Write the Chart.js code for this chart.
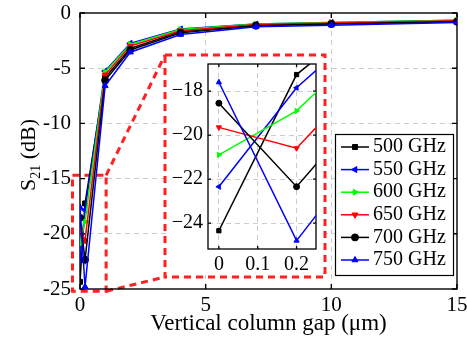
<!DOCTYPE html>
<html>
<head>
<meta charset="utf-8">
<script src="https://cdn.jsdelivr.net/npm/chart.js@4.4.1/dist/chart.umd.min.js"></script>
<style>
body { margin: 0; background: #fff; }
#wrap { position: relative; width: 467px; height: 341px; }
#principal { position: absolute; left: 0; top: 0; }
#detalle { position: absolute; left: 167px; top: 57px; background: #fff; }
</style>
</head>
<body>
<div id="wrap">
<canvas id="principal" width="467" height="341"></canvas>
<canvas id="detalle" width="156" height="218"></canvas>
</div>
<script>
// separacion vertical de columnas (um) y S21 (dB) por frecuencia
const gaps = [0, 0.2, 1, 2, 4, 7, 10, 15];
const etiquetas = ["500 GHz", "550 GHz", "600 GHz", "650 GHz", "700 GHz", "750 GHz"];
const s500 = [-24.35, -17.25, -5.85, -3.2, -1.7, -1.1, -0.95, -0.75];
const s550 = [-22.35, -17.85, -5.25, -2.75, -1.45, -1.0, -0.85, -0.65];
const s600 = [-20.9, -18.9, -5.35, -2.85, -1.5, -1.0, -0.85, -0.65];
const s650 = [-19.65, -20.6, -5.6, -3.0, -1.6, -1.05, -0.9, -0.7];
const s700 = [-18.55, -22.35, -6.1, -3.35, -1.8, -1.15, -1.0, -0.8];
const s750 = [-17.6, -24.8, -6.6, -3.55, -1.95, -1.25, -1.1, -0.85];
const ticksX = [0, 5, 10, 15];
const ticksY = [0, -5, -10, -15, -20, -25];
const ticksXDetalle = [0, 0.1, 0.2];
const ticksYDetalle = [-24, -22, -20, -18];

const colores = ["#000000", "#0000ff", "#00ff00", "#ff0000", "#000000", "#0000ff"];
const marcadores = ["rect", "triangle", "triangle", "triangle", "circle", "triangle"];
const giros = [0, -90, 90, 180, 0, 0];
const letra = '"Liberation Serif", "Times New Roman", serif';
const gris = "#cccccc";

function series(radio) {
  return [s500, s550, s600, s650, s700, s750].map((vals, i) => ({
    label: etiquetas[i],
    data: gaps.map((g, j) => ({x: g, y: vals[j]})),
    borderColor: colores[i],
    backgroundColor: colores[i],
    pointStyle: marcadores[i],
    pointRotation: giros[i],
    pointRadius: radio,
    pointBorderWidth: 1,
    borderWidth: 1.5,
    order: 5 - i
  }));
}

// rejilla punteada solo en las marcas interiores
function colorRejilla(c) {
  const s = c.scale;
  if (!c.tick) return gris;
  return (c.tick.value === s.min || c.tick.value === s.max) ? "rgba(0,0,0,0)" : gris;
}

// tamanyo fijo del eje, sin el relleno automatico de las etiquetas
function fijar(s, tam) {
  if (s.isHorizontal()) s.height = tam; else s.width = tam;
  s.paddingTop = 0; s.paddingBottom = 0; s.paddingLeft = 0; s.paddingRight = 0;
}

// marco negro con marcas hacia dentro (estilo matlab)
const marco = {
  id: "marco",
  beforeDatasetsDraw(chart, args, opts) {
    const {ctx, chartArea: a, scales: {x, y}} = chart;
    const L = opts.largo || 5;
    ctx.save();
    ctx.strokeStyle = "#000";
    ctx.lineWidth = opts.ancho || 1.3;
    ctx.setLineDash([]);
    ctx.strokeRect(a.left, a.top, a.right - a.left, a.bottom - a.top);
    ctx.beginPath();
    x.ticks.forEach(t => {
      const px = x.getPixelForValue(t.value);
      ctx.moveTo(px, a.bottom); ctx.lineTo(px, a.bottom - L);
      ctx.moveTo(px, a.top); ctx.lineTo(px, a.top + L);
    });
    y.ticks.forEach(t => {
      const py = y.getPixelForValue(t.value);
      ctx.moveTo(a.left, py); ctx.lineTo(a.left + L, py);
      ctx.moveTo(a.right, py); ctx.lineTo(a.right - L, py);
    });
    ctx.stroke();
    ctx.restore();
  }
};

// recuadros rojos del zoom
const zoomRojo = {
  id: "zoomRojo",
  beforeDatasetsDraw(chart) {
    const {ctx, scales: {x, y}} = chart;
    const x0 = x.getPixelForValue(-0.3), x1 = x.getPixelForValue(1.04);
    const y0 = y.getPixelForValue(-14.7), y1 = y.getPixelForValue(-25.2);
    const g = {l: 165, t: 55, r: 325, b: 277};
    ctx.save();
    ctx.strokeStyle = "#ff2020";
    ctx.lineWidth = 3;
    ctx.setLineDash([7, 5]);
    ctx.strokeRect(x0, y0, x1 - x0, y1 - y0);
    ctx.strokeRect(g.l, g.t, g.r - g.l, g.b - g.t);
    ctx.beginPath();
    ctx.moveTo(x1, y0); ctx.lineTo(g.l, g.t);
    ctx.moveTo(x1, y1); ctx.lineTo(g.l, g.b);
    ctx.stroke();
    ctx.restore();
  }
};

const leyenda = {
  id: "leyenda",
  afterDatasetsDraw(chart) {
    const ctx = chart.ctx;
    ctx.save();
    ctx.fillStyle = "#fff";
    ctx.fillRect(335, 134, 118, 141);
    ctx.strokeStyle = "#000";
    ctx.lineWidth = 1.2;
    ctx.strokeRect(335.5, 134.5, 118, 141);
    chart.data.datasets.forEach((d, i) => {
      const yy = 147 + i * 22.6;
      ctx.strokeStyle = d.borderColor;
      ctx.fillStyle = d.borderColor;
      ctx.lineWidth = 1.5;
      ctx.beginPath(); ctx.moveTo(341, yy); ctx.lineTo(369, yy); ctx.stroke();
      ctx.lineWidth = 1;
      Chart.helpers.drawPoint(ctx, {pointStyle: d.pointStyle, rotation: d.pointRotation, radius: 3.5, borderWidth: 1}, 355, yy);
      ctx.fillStyle = "#000";
      ctx.font = "20px " + letra;
      ctx.textBaseline = "middle";
      ctx.textAlign = "left";
      ctx.fillText(d.label, 373, yy);
    });
    ctx.restore();
  }
};

// titulo del eje y con subindice
const tituloY = {
  id: "tituloY",
  afterDraw(chart) {
    const {ctx, chartArea: a} = chart;
    ctx.save();
    ctx.translate(27, (a.top + a.bottom) / 2 + 4);
    ctx.rotate(-Math.PI / 2);
    ctx.fillStyle = "#000";
    ctx.textBaseline = "alphabetic";
    const f1 = "22px " + letra, f2 = "14px " + letra;
    ctx.font = f1; const wS = ctx.measureText("S").width; const wR = ctx.measureText(" (dB)").width;
    ctx.font = f2; const w21 = ctx.measureText("21").width;
    let px = -(wS + w21 + wR) / 2;
    ctx.font = f1; ctx.fillText("S", px, 8); px += wS;
    ctx.font = f2; ctx.fillText("21", px, 13); px += w21;
    ctx.font = f1; ctx.fillText(" (dB)", px, 8);
    ctx.restore();
  }
};

new Chart("principal", {
  type: "line",
  data: {datasets: series(3.5)},
  plugins: [zoomRojo, marco, leyenda, tituloY],
  options: {
    responsive: false,
    animation: false,
    devicePixelRatio: 1,
    layout: {padding: {top: 13, right: 10, left: 0, bottom: 0}},
    plugins: {legend: {display: false}, tooltip: {enabled: false}, marco: {ancho: 1.4, largo: 5}},
    elements: {line: {tension: 0}},
    scales: {
      x: {
        type: "linear", min: 0, max: 15,
        afterBuildTicks: s => { s.ticks = ticksX.map(v => ({value: v})); },
        afterFit: s => fijar(s, 52),
        grid: {color: colorRejilla, drawTicks: false, lineWidth: 1},
        border: {display: false, dash: [5, 4]},
        ticks: {color: "#000", font: {family: letra, size: 21}, padding: 4, maxRotation: 0},
        title: {display: true, text: "Vertical column gap (\u03bcm)", color: "#000", font: {family: letra, size: 23}, padding: {top: 0, bottom: 3}}
      },
      y: {
        type: "linear", min: -25, max: 0,
        afterBuildTicks: s => { s.ticks = ticksY.map(v => ({value: v})); },
        afterFit: s => fijar(s, 80),
        grid: {color: colorRejilla, drawTicks: false, lineWidth: 1},
        border: {display: false, dash: [5, 4]},
        ticks: {color: "#000", font: {family: letra, size: 21}, padding: 9}
      }
    }
  }
});

new Chart("detalle", {
  type: "line",
  data: {datasets: series(3)},
  plugins: [marco],
  options: {
    responsive: false,
    animation: false,
    devicePixelRatio: 1,
    layout: {padding: {top: 7, right: 7, left: 0, bottom: 0}},
    plugins: {legend: {display: false}, tooltip: {enabled: false}, marco: {ancho: 1.3, largo: 3}},
    elements: {line: {tension: 0}},
    scales: {
      x: {
        type: "linear", min: -0.028, max: 0.25,
        afterBuildTicks: s => { s.ticks = ticksXDetalle.map(v => ({value: v})); },
        afterFit: s => fijar(s, 26),
        grid: {color: gris, drawTicks: false},
        border: {display: false, dash: [5, 4]},
        ticks: {color: "#000", font: {family: letra, size: 20}, padding: 4, maxRotation: 0}
      },
      y: {
        type: "linear", min: -25.18, max: -16.77,
        afterBuildTicks: s => { s.ticks = ticksYDetalle.map(v => ({value: v})); },
        afterFit: s => fijar(s, 41),
        grid: {color: gris, drawTicks: false},
        border: {display: false, dash: [5, 4]},
        ticks: {color: "#000", font: {family: letra, size: 20}, padding: 5, callback: v => String(v).replace("-", "\u2212")}
      }
    }
  }
});
</script>
</body>
</html>
